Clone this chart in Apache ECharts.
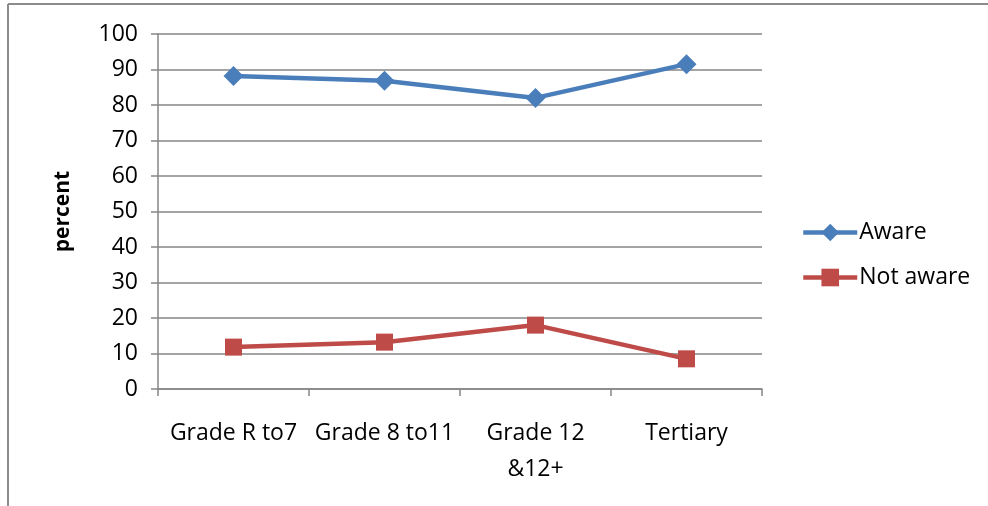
<!DOCTYPE html>
<html><head><meta charset="utf-8">
<script src="https://cdn.jsdelivr.net/npm/echarts@6/dist/echarts.min.js"></script>
<style>html,body{margin:0;padding:0;background:#fff}#c{width:988px;height:506px}</style>
</head><body><div id="c"></div>
<script>
const categories = ['Grade R to7', 'Grade 8 to11', 'Grade 12\n&12+', 'Tertiary'];
const aware = [88.2, 86.8, 82.0, 91.5];
const notAware = [11.8, 13.2, 18.0, 8.5];
const yTicks = [0, 10, 20, 30, 40, 50, 60, 70, 80, 90, 100];

const chart = echarts.init(document.getElementById('c'));
const font = '"Open Sans", Lato, sans-serif';
chart.setOption({
  animation: false,
  backgroundColor: '#fff',
  graphic: [
    {type: 'line', shape: {x1: 8, y1: 4, x2: 988, y2: 4}, style: {stroke: '#8c8c8c', lineWidth: 2}},
    {type: 'line', shape: {x1: 8, y1: 4, x2: 8, y2: 506}, style: {stroke: '#8c8c8c', lineWidth: 2}}
  ],
  grid: {left: 158, right: 226, top: 34, bottom: 117},
  legend: {
    orient: 'vertical', left: 796, top: 216, itemGap: 22,
    itemWidth: 54, itemHeight: 22,
    lineStyle: {width: 4.5},
    textStyle: {fontFamily: font, fontSize: 23, color: '#000', padding: [0, 0, 0, -3]},
    data: ['Aware', 'Not aware']
  },
  xAxis: {
    type: 'category', data: categories,
    axisLine: {lineStyle: {color: '#868686', width: 1.5}},
    axisTick: {show: true, length: 7, lineStyle: {color: '#868686', width: 1.5}},
    axisLabel: {interval: 0, fontFamily: font, fontSize: 23, color: '#000', margin: 26, lineHeight: 36}
  },
  yAxis: {
    type: 'value', min: 0, max: 100, interval: 10,
    name: 'percent', nameLocation: 'middle', nameGap: 84, nameRotate: 90,
    nameTextStyle: {fontFamily: font, fontSize: 21, fontWeight: 'bold', color: '#000'},
    axisLine: {show: true, lineStyle: {color: '#868686', width: 1.5}},
    axisTick: {show: true, length: 7, lineStyle: {color: '#868686', width: 1.5}},
    splitLine: {lineStyle: {color: '#868686', width: 1.5}},
    axisLabel: {fontFamily: font, fontSize: 23, color: '#000', margin: 20,
      formatter: v => yTicks.includes(v) ? String(v) : ''}
  },
  series: [
    {name: 'Aware', type: 'line', data: aware, symbol: 'diamond', symbolSize: 20,
     lineStyle: {color: '#4a7ebb', width: 4.5}, itemStyle: {color: '#4a7ebb'}},
    {name: 'Not aware', type: 'line', data: notAware, symbol: 'rect', symbolSize: 17,
     lineStyle: {color: '#be4b48', width: 4.5}, itemStyle: {color: '#be4b48'}}
  ]
});
</script></body></html>
